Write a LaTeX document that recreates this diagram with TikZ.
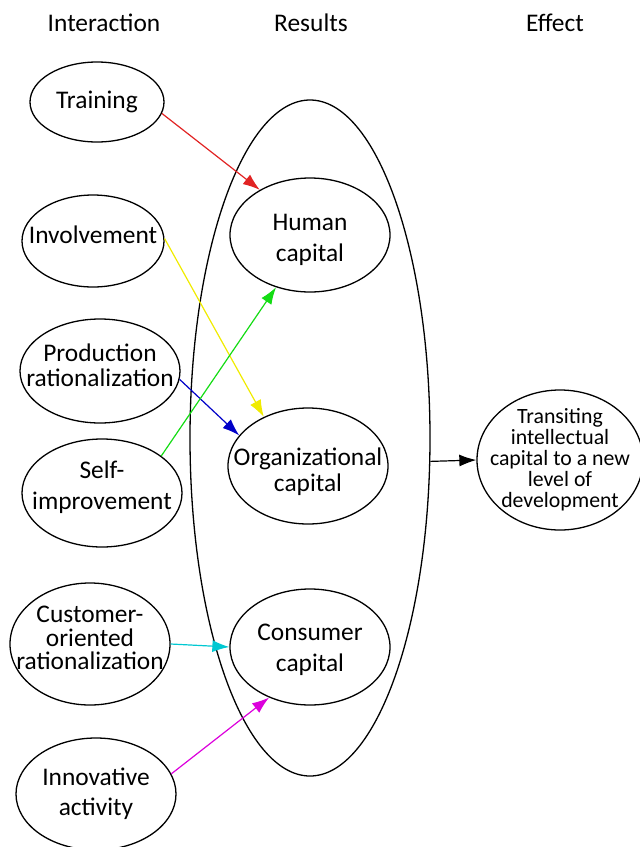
\documentclass[tikz,border=0pt]{standalone}
\usepackage{fontspec}
\setmainfont{Carlito}
\usetikzlibrary{shapes.geometric,arrows.meta}
\definecolor{arrred}{RGB}{225,35,35}
\definecolor{arryellow}{RGB}{240,235,0}
\definecolor{arrblue}{RGB}{0,0,200}
\definecolor{arrgreen}{RGB}{20,220,20}
\definecolor{arrcyan}{RGB}{0,200,210}
\definecolor{arrmagenta}{RGB}{220,0,220}
\tikzset{
  oval/.style={ellipse,draw,line width=0.65pt,inner sep=0pt},
  txt/.style={align=center,inner sep=0pt,font=\fontsize{12.7}{12.5}\selectfont},
  ltxt/.style={txt,yshift=3pt},
  head/.style={font=\fontsize{12.7}{13}\selectfont,anchor=base},
  link/.style={-{Latex[length=8.5pt,width=6pt]},line width=0.6pt},
}
\begin{document}
\begin{tikzpicture}[x=0.5pt,y=-0.5pt]
\useasboundingbox (0,0) rectangle (640,847);
% column titles
\node[head] (colint) at (104,31) {Interaction};
\node[head] (colres) at (311,31) {Results};
\node[head] (coleff) at (555,31) {Effect};
% interaction
\node[oval,minimum width=67pt,minimum height=40pt,label={[txt]center:Training}] (train) at (97,102) {};
\node[oval,minimum width=71pt,minimum height=46pt,label={[ltxt]center:Involvement}] (involve) at (93,241) {};
\node[oval,minimum width=80pt,minimum height=52pt,label={[ltxt]center:Production\\rationalization}] (prod) at (100,371) {};
\node[oval,minimum width=80pt,minimum height=54pt,label={[ltxt]center:Self-\\[3pt]improvement}] (self) at (102,493) {};
\node[oval,minimum width=80pt,minimum height=61pt,label={[ltxt,font=\fontsize{12.7}{11.6}\selectfont]center:Customer-\\oriented\\rationalization}] (cust) at (90,644) {};
\node[oval,minimum width=80pt,minimum height=56pt,label={[txt]center:Innovative\\[2.5pt]activity}] (innov) at (96,794) {};
% results
\node[oval,minimum width=120pt,minimum height=338pt] (results) at (310,438) {};
\node[oval,minimum width=80pt,minimum height=57pt,label={[txt,yshift=-2.5pt]center:Human\\[3pt]capital}] (human) at (310,235) {};
\node[oval,minimum width=80pt,minimum height=58pt,label={[txt,yshift=-3pt]center:Organizational\\[0.5pt]capital}] (org) at (308,466) {};
\node[oval,minimum width=80pt,minimum height=58pt,label={[txt,yshift=-1.5pt]center:Consumer\\[3pt]capital}] (cons) at (310,647) {};
% effect
\node[oval,minimum width=83pt,minimum height=70pt,label={[txt,font=\fontsize{10.9}{10.5}\selectfont]center:Transiting\\intellectual\\capital to a new\\level of\\development}] (effect) at (560,460) {};
% links
\draw[link,arrred] (train.-10) -- (human.138);
\draw[link,arryellow] (involve.2) -- (org.132);
\draw[link,arrblue] (prod.-6) -- (org.156);
\draw[link,arrgreen] (self.32) -- (human.237);
\draw[link,arrcyan] (cust.0) -- (cons.180);
\draw[link,arrmagenta] (innov.15) -- (cons.231);
\draw[link] (results.-11) -- (effect.180);
\end{tikzpicture}
\end{document}
